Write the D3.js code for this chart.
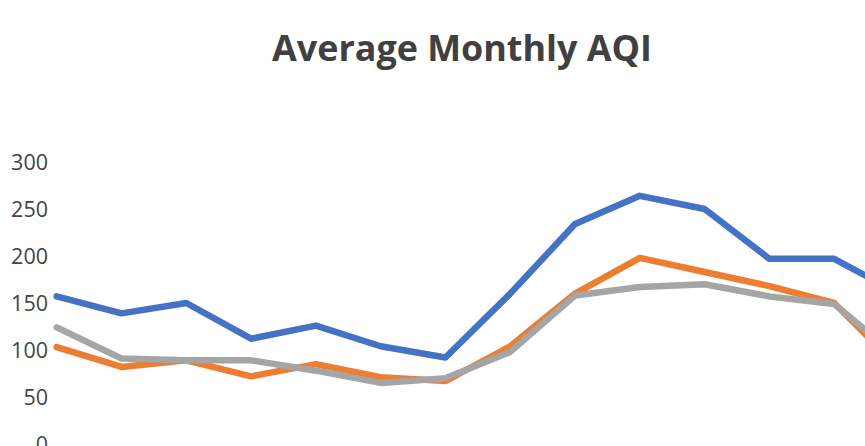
<!DOCTYPE html>
<html>
<head>
<meta charset="utf-8">
<script src="https://cdn.jsdelivr.net/npm/d3@7"></script>
<style>
  body { margin: 0; background: #fff; }
  svg { display: block; }
</style>
</head>
<body>
<div id="chart"></div>
<script>
// layout
var width = 865,
    height = 446;

// data (one value per month)
var months = [0, 1, 2, 3, 4, 5, 6, 7, 8, 9, 10, 11, 12, 13];
var seriesBlue   = [157, 139, 150, 112, 126, 104, 92, 160, 234, 264, 250, 197, 197, 160];
var seriesOrange = [103, 82, 89, 72, 85, 71, 67, 104, 160, 198, 183, 168, 150, 81];
var seriesGray   = [124, 91, 89, 89, 78, 65, 70, 98, 158, 167, 170, 157, 149, 91];
var yTicks = [0, 50, 100, 150, 200, 250, 300];

var series = [
    {values: seriesBlue, color: "#4472C4"},
    {values: seriesOrange, color: "#ED7D31"},
    {values: seriesGray, color: "#A5A5A5"}
];

var svg = d3.select("#chart").append("svg")
    .attr("width", width)
    .attr("height", height);

var x = d3.scaleLinear().domain([0, 13]).range([56.7, 899]);
var y = d3.scaleLinear().domain([0, 300]).range([444, 162]);

// title, fitted to its width in the picture
var title = svg.append("text")
    .attr("x", 462)
    .attr("y", 61)
    .attr("text-anchor", "middle")
    .style("font-family", "'Open Sans', 'Noto Sans', sans-serif")
    .style("font-weight", "bold")
    .style("font-size", "32px")
    .style("fill", "#404040")
    .text("Average Monthly AQI");
var tw = title.node().getComputedTextLength();
title.style("font-size", (32 * 380 / tw) + "px");

// y axis labels only
var yAxis = d3.axisLeft(y).tickValues(yTicks).tickSize(0).tickPadding(0);
svg.append("g")
    .attr("transform", "translate(48,0)")
    .call(yAxis)
    .call(g => g.select(".domain").remove())
    .call(g => g.selectAll("text")
        .attr("dy", "0.35em")
        .style("font-family", "'Open Sans', 'Noto Sans', sans-serif")
        .style("font-size", "21.5px")
        .style("fill", "#444444"));

var line = d3.line()
    .x((d, i) => x(months[i]))
    .y(d => y(d));

svg.append("g")
    .selectAll("path")
    .data(series)
    .enter()
    .append("path")
    .attr("d", d => line(d.values))
    .attr("fill", "none")
    .attr("stroke", d => d.color)
    .attr("stroke-width", 6.5)
    .attr("stroke-linejoin", "round")
    .attr("stroke-linecap", "round");
</script>
</body>
</html>
